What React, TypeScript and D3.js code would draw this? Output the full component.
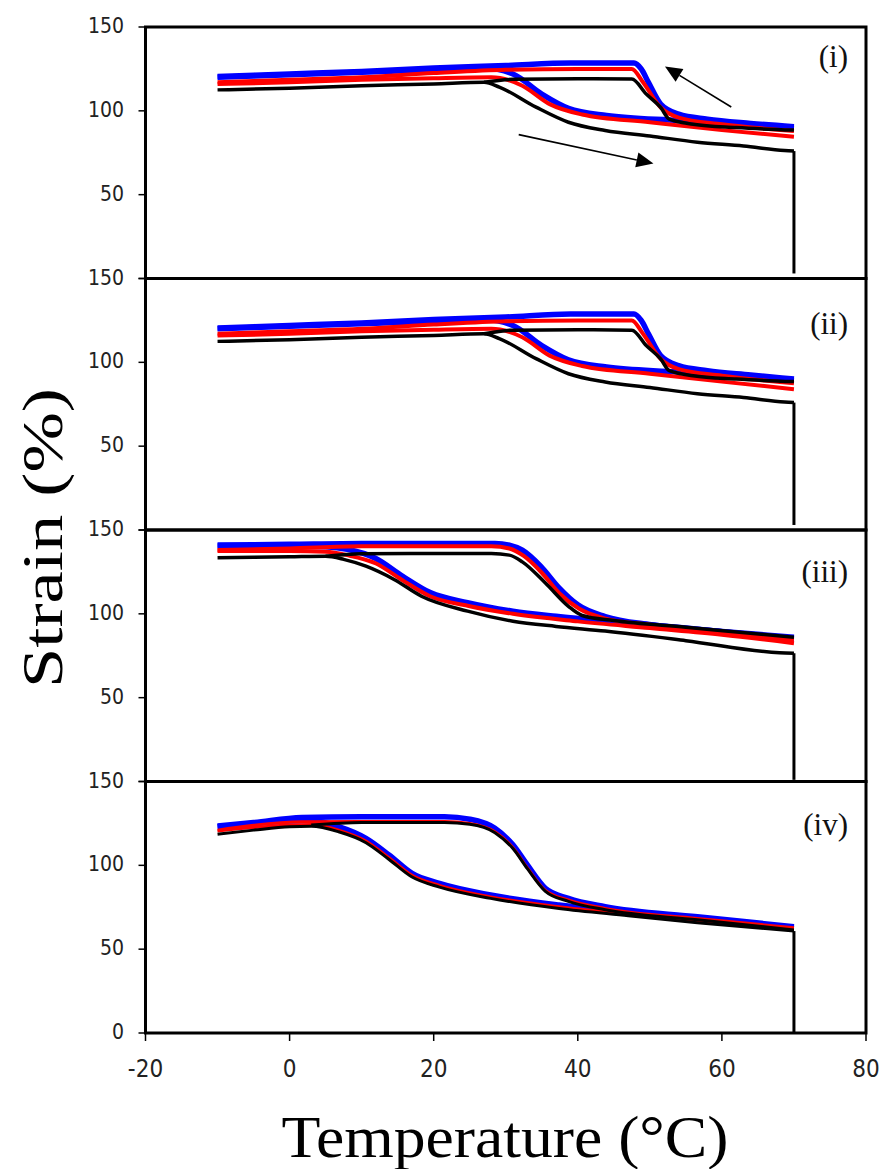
import React from 'react';
import * as d3 from 'd3';

type P = [number, number];

const X_TICKS = [-20, 0, 20, 40, 60, 80];
const Y_TICKS = [0, 50, 100, 150];
const PANEL_LABELS = ['(i)', '(ii)', '(iii)', '(iv)'];

// ---- panel (i) ----
const blueHeat1: P[] = [[-10, 120], [0, 121.5], [10, 123], [20, 124.5], [27, 125.5], [31, 122], [35, 110], [38.7, 101.5], [44, 97.2], [54, 94.2], [62, 92], [70, 89.5]];
const blueCool1: P[] = [[-10, 120.5], [0, 122], [10, 123.5], [20, 125.5], [30, 127], [39, 128.5], [47.8, 128.5], [48.8, 125], [49.8, 117], [51.5, 104], [54, 98], [58, 95], [64, 92.5], [70, 90.5]];
const redHeat1: P[] = [[-10, 116], [0, 117], [10, 118.5], [20, 119.5], [28, 120], [32.3, 115], [36.1, 104], [40.6, 97.8], [50, 93.2], [60, 88.5], [70, 84.5]];
const redCool1: P[] = [[-10, 117], [0, 118.5], [10, 120], [20, 122.5], [30, 124.5], [40, 125], [47.5, 125], [48.9, 118], [51.5, 102], [54, 96], [60, 92], [70, 88]];
const blackHeat1: P[] = [[-10, 112.5], [0, 113.5], [10, 115], [20, 116], [27, 117], [29.1, 114.2], [34.2, 102.2], [38.7, 93.2], [43.8, 88.3], [50, 85], [56.6, 81.3], [63, 79], [68.7, 76.3], [70, 76]];
const blackCool1: P[] = [[27, 117], [31, 118.8], [40, 119.2], [47.5, 119], [49.5, 110], [51.5, 102], [52.7, 95], [56, 92], [62, 90], [70, 88.5]];
const blackDrop1: P[] = [[70, 76], [70, 3]];

// ---- panel (ii) ----
const blueHeat2: P[] = [[-10, 120], [0, 121.5], [10, 123], [20, 124.5], [27, 125.5], [31, 122], [35, 110], [38.7, 101.5], [44, 97.2], [54, 94.2], [62, 91.5], [70, 89]];
const blueCool2: P[] = [[-10, 120.5], [0, 122], [10, 123.5], [20, 125.5], [30, 127], [39, 128.8], [47.8, 128.8], [48.8, 125], [49.8, 117], [51.5, 104], [54, 98], [58, 95], [64, 92.5], [70, 90]];
const redHeat2: P[] = [[-10, 116], [0, 117], [10, 118.5], [20, 119.5], [28, 120], [32.3, 115], [36.1, 104], [40.6, 97.8], [50, 93.2], [60, 88.5], [70, 84]];
const redCool2: P[] = [[-10, 117], [0, 118.5], [10, 120], [20, 122.5], [30, 124.5], [40, 125], [47.5, 125], [48.9, 118], [51.5, 102], [54, 96], [60, 92], [70, 87.5]];
const blackHeat2: P[] = [[-10, 112.5], [0, 113.5], [10, 115], [20, 116], [27, 117], [29.1, 114.2], [34.2, 102.2], [38.7, 93.2], [43.8, 88.3], [50, 85], [56.6, 81.3], [63, 79], [68.7, 76.3], [70, 76]];
const blackCool2: P[] = [[27, 117], [31, 119.2], [40, 119.4], [47.5, 119.2], [49.5, 110], [51.5, 102], [52.7, 95], [56, 92], [62, 90], [70, 88.5]];
const blackDrop2: P[] = [[70, 76], [70, 3]];

// ---- panel (iii) ----
const blueHeat3: P[] = [[-10, 140.5], [0, 140.5], [5, 140], [8, 138.5], [11.9, 133.2], [15.7, 122.4], [19.6, 112.5], [24.7, 106.7], [31, 101.6], [37, 98.5], [43.8, 95.6], [55, 91.5], [70, 85]];
const blueCool3: P[] = [[-10, 141], [0, 141.5], [10, 142], [20, 142], [28.5, 142], [30.5, 141], [32.3, 138], [34.9, 128.2], [37.4, 115.5], [40, 105.4], [43.8, 98.4], [50.2, 93.5], [60, 89.5], [70, 86]];
const redHeat3: P[] = [[-10, 137.5], [0, 137.5], [5, 137], [8, 135], [12, 130], [15.5, 120.5], [19.5, 110.5], [25, 104.5], [31, 100], [40, 95.5], [50, 91.5], [60, 87.5], [70, 82.5]];
const redCool3: P[] = [[-10, 138], [0, 139], [10, 140.3], [20, 140.3], [28, 140.3], [30.5, 139], [32.5, 134.5], [35, 124.5], [37.5, 112], [40.2, 103], [44, 97], [50, 93.5], [60, 88.5], [70, 84.5]];
const blackHeat3: P[] = [[-10, 133.4], [0, 134], [5, 134.3], [7.5, 132.5], [10.6, 128.4], [14.5, 120.5], [18.3, 110.5], [24.7, 101.6], [31, 95.6], [37, 92.5], [43.8, 89.7], [55, 84], [68, 76.8], [70, 76.5]];
const blackCool3: P[] = [[5, 134.3], [10, 135.8], [20, 136], [28, 136], [30.5, 135], [32.3, 131], [35.5, 118.4], [38.7, 104.5], [40.6, 99], [45, 96], [55, 92], [70, 86]];
const blackDrop3: P[] = [[70, 76.5], [70, 1]];

// ---- panel (iv) ----
const blueHeat4: P[] = [[-10, 123], [-5, 125], [0, 126.5], [3, 126.8], [6.8, 123.1], [10.6, 116.1], [13.8, 106.2], [17, 95.2], [20.8, 89.2], [27.9, 82.3], [37.4, 76.3], [47, 72], [56.6, 67.8], [70, 62.4]];
const blueCool4: P[] = [[-10, 123.5], [-5, 125.5], [1.7, 128.5], [10, 129], [21.5, 129], [25, 127.5], [28.5, 122.1], [31, 112.2], [33, 100.2], [35.5, 86.3], [38.7, 80.3], [43.8, 75.3], [56.6, 69.3], [70, 63.4]];
const redHeat4: P[] = [[-10, 120.5], [-5, 122.5], [0, 124], [3, 124.3], [6.8, 121], [10.6, 114.5], [13.8, 104.5], [17, 94], [20.8, 88], [27.9, 81.2], [37.4, 75.3], [47, 71], [56.6, 66.8], [70, 62]];
const redCool4: P[] = [[-10, 121], [1.7, 126], [10, 126.2], [21.5, 126.2], [25, 125], [28.5, 120], [31, 110.5], [33, 98.5], [35.5, 85], [38.7, 79.3], [43.8, 74.3], [56.6, 68.3], [70, 62.8]];
const blackHeat4: P[] = [[-10, 118.6], [-5, 121], [0, 123], [3, 123.3], [6.8, 120], [10.6, 113.5], [13.8, 103.5], [17, 93], [20.8, 87], [27.9, 80.3], [37.4, 74.3], [47, 70], [56.6, 65.8], [70, 60.8]];
const blackCool4: P[] = [[3, 124], [10, 125.5], [21.5, 125.5], [25, 124.5], [28.5, 119.5], [31, 110], [33, 98], [35.5, 84.5], [38.7, 78.5], [43.8, 73.5], [56.6, 67.5], [70, 61.5]];
const blackDrop4: P[] = [[70, 60.8], [70, 0]];

// arrows in panel (i): [fromT, fromS, toT, toS]
const arrows1 = [[61.3, 102.3, 52.1, 126.4], [31.8, 85.8, 50.5, 68.6]];

const panels = [
  { blue: [blueHeat1, blueCool1], red: [redHeat1, redCool1], black: [blackHeat1, blackCool1], drop: blackDrop1, arrows: arrows1, labelS: 126 },
  { blue: [blueHeat2, blueCool2], red: [redHeat2, redCool2], black: [blackHeat2, blackCool2], drop: blackDrop2, arrows: [], labelS: 117 },
  { blue: [blueHeat3, blueCool3], red: [redHeat3, redCool3], black: [blackHeat3, blackCool3], drop: blackDrop3, arrows: [], labelS: 119 },
  { blue: [blueHeat4, blueCool4], red: [redHeat4, redCool4], black: [blackHeat4, blackCool4], drop: blackDrop4, arrows: [], labelS: 118 },
];

const W = 881;
const H = 1169;
const LEFT = 145.5;
const RIGHT = 866;
const TOP = 27;
const BOTTOM = 1033;
const PH = (BOTTOM - TOP) / 4;

const tickFont = "'Liberation Sans Narrow', 'DejaVu Sans Condensed', 'Arial Narrow', sans-serif";
const serif = "'Liberation Serif', 'Times New Roman', serif";

export default function App() {
  const x = d3.scaleLinear().domain([-20, 80]).range([LEFT, RIGHT]);

  return (
    <svg width={W} height={H} style={{ position: 'absolute', left: 0, top: 0, background: '#fff' }}>
      <rect x={0} y={0} width={W} height={H} fill="#fff" />
      {panels.map((p, i) => {
        const top = TOP + i * PH;
        const bot = top + PH;
        const y = d3.scaleLinear().domain([0, 150]).range([bot, top]);
        const line = d3.line<P>().x(d => x(d[0])).y(d => y(d[1])).curve(d3.curveMonotoneX);
        const lin = d3.line<P>().x(d => x(d[0])).y(d => y(d[1]));
        const ticks = i === 3 ? Y_TICKS : Y_TICKS.filter(t => t !== 0);
        return (
          <g key={i}>
            {p.blue.map((s, k) => (
              <path key={'b' + k} d={line(s) || ''} fill="none" stroke="#0000ff" strokeWidth={5.5} strokeLinejoin="round" />
            ))}
            {p.red.map((s, k) => (
              <path key={'r' + k} d={line(s) || ''} fill="none" stroke="#ff0000" strokeWidth={i === 3 ? 3 : 4} strokeLinejoin="round" />
            ))}
            {p.black.map((s, k) => (
              <path key={'k' + k} d={line(s) || ''} fill="none" stroke="#000" strokeWidth={i === 3 ? 3 : 3.5} strokeLinejoin="round" />
            ))}
            <path d={lin(p.drop) || ''} fill="none" stroke="#000" strokeWidth={3} />
            {p.arrows.map((a, k) => {
              const x0 = x(a[0]), y0 = y(a[1]), x1 = x(a[2]), y1 = y(a[3]);
              const ang = Math.atan2(y1 - y0, x1 - x0);
              const L = 17, hw = 7.5;
              const bx = x1 - L * Math.cos(ang), by = y1 - L * Math.sin(ang);
              const px = -Math.sin(ang) * hw, py = Math.cos(ang) * hw;
              return (
                <g key={'a' + k}>
                  <line x1={x0} y1={y0} x2={bx} y2={by} stroke="#000" strokeWidth={1.6} />
                  <polygon points={`${x1},${y1} ${bx + px},${by + py} ${bx - px},${by - py}`} fill="#000" />
                </g>
              );
            })}
            <rect x={LEFT} y={top} width={RIGHT - LEFT} height={PH} fill="none" stroke="#000" strokeWidth={3} />
            {Y_TICKS.map(t => (
              <line key={'ytl' + t} x1={LEFT - 7} x2={LEFT} y1={y(t)} y2={y(t)} stroke="#000" strokeWidth={1.5} />
            ))}
            {ticks.map(t => (
              <text key={'yt' + t} x={124} y={y(t) - 1} textAnchor="end" dominantBaseline="central" fontFamily={tickFont} fontSize={21} fill="#222">{t}</text>
            ))}
            <text x={848} y={y(p.labelS)} textAnchor="end" fontFamily={serif} fontSize={31} fill="#111">{PANEL_LABELS[i]}</text>
          </g>
        );
      })}
      {X_TICKS.map(t => (
        <g key={'xt' + t}>
          <line x1={x(t)} x2={x(t)} y1={BOTTOM} y2={BOTTOM + 8} stroke="#000" strokeWidth={1.5} />
          <text x={x(t)} y={BOTTOM + 36} textAnchor="middle" dominantBaseline="central" fontFamily={tickFont} fontSize={24} fill="#222">{t}</text>
        </g>
      ))}
      <text x={505} y={1157} textAnchor="middle" fontFamily={serif} fontSize={60} textLength={447} lengthAdjust="spacingAndGlyphs" fill="#000">Temperature (°C)</text>
      <text transform="translate(62,538) rotate(-90)" textAnchor="middle" fontFamily={serif} fontSize={58} textLength={300} lengthAdjust="spacingAndGlyphs" fill="#000">Strain (%)</text>
    </svg>
  );
}
